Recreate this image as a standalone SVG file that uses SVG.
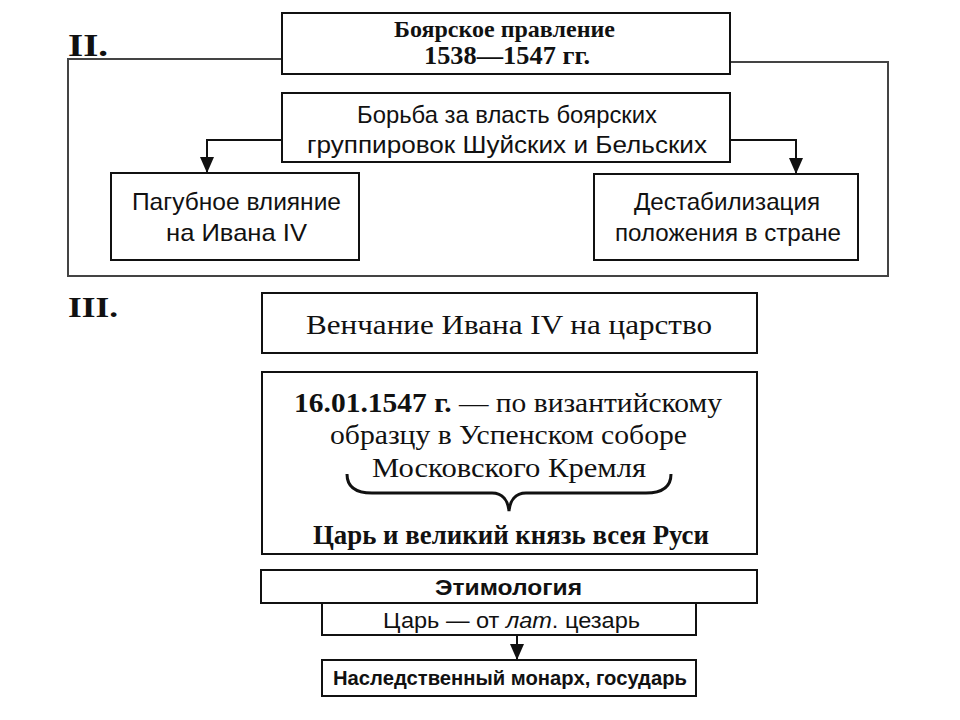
<svg xmlns="http://www.w3.org/2000/svg" width="960" height="720" viewBox="0 0 960 720">
<defs>
<marker id="ah" markerUnits="userSpaceOnUse" markerWidth="16" markerHeight="14" viewBox="0 0 16 14" refX="16" refY="7" orient="auto">
<path d="M0,0 L16,7 L0,14 Z" fill="#111"/>
</marker>
<style>
.box{fill:#fff;stroke:#111;stroke-width:2}
.frame{fill:none;stroke:#444;stroke-width:2}
.con{fill:none;stroke:#111;stroke-width:2}
.sr{font-family:"Liberation Serif","Times New Roman",serif;fill:#111}
.ss{font-family:"Liberation Sans",Arial,sans-serif;fill:#111}
.b{font-weight:bold}
</style>
</defs>
<rect width="960" height="720" fill="#fff"/>

<g id="section-II">
<text class="sr b" x="68" y="56" font-size="32" textLength="40" lengthAdjust="spacingAndGlyphs">II.</text>
<polyline class="frame" points="282,59 68,59 68,276 888,276 888,62 730,62"/>
</g>

<g id="connectors">
<polyline class="con" points="282,140 207,140 207,173" marker-end="url(#ah)"/>
<polyline class="con" points="730,140 796,140 796,174" marker-end="url(#ah)"/>
<line class="con" x1="517" y1="635" x2="517" y2="660" marker-end="url(#ah)"/>
</g>

<g id="boyar-rule">
<rect class="box" x="282" y="13" width="448" height="61"/>
<text class="sr b" x="394" y="37" font-size="24" textLength="221" lengthAdjust="spacingAndGlyphs">Боярское правление</text>
<text class="sr b" x="424" y="64" font-size="25" textLength="166" lengthAdjust="spacingAndGlyphs">1538—1547 гг.</text>
</g>

<g id="struggle">
<rect class="box" x="282" y="93" width="448" height="69"/>
<text class="ss" x="357" y="123" font-size="24" textLength="300" lengthAdjust="spacingAndGlyphs">Борьба за власть боярских</text>
<text class="ss" x="307" y="153" font-size="24" textLength="400" lengthAdjust="spacingAndGlyphs">группировок Шуйских и Бельских</text>
</g>

<g id="influence">
<rect class="box" x="111" y="173" width="248" height="87"/>
<text class="ss" x="132" y="210" font-size="24" textLength="209" lengthAdjust="spacingAndGlyphs">Пагубное влияние</text>
<text class="ss" x="166" y="241" font-size="24" textLength="141" lengthAdjust="spacingAndGlyphs">на Ивана IV</text>
</g>

<g id="destabilization">
<rect class="box" x="594" y="174" width="264" height="86"/>
<text class="ss" x="634" y="210" font-size="24" textLength="186" lengthAdjust="spacingAndGlyphs">Дестабилизация</text>
<text class="ss" x="615" y="241" font-size="24" textLength="226" lengthAdjust="spacingAndGlyphs">положения в стране</text>
</g>

<g id="section-III">
<text class="sr b" x="68" y="317" font-size="30" textLength="50" lengthAdjust="spacingAndGlyphs">III.</text>
</g>

<g id="coronation">
<rect class="box" x="262" y="293" width="495" height="60"/>
<text class="sr" x="306" y="334" font-size="27" textLength="406" lengthAdjust="spacingAndGlyphs">Венчание Ивана IV на царство</text>
</g>

<g id="details">
<rect class="box" x="262" y="372" width="495" height="182"/>
<text class="sr" x="294" y="412" font-size="27" textLength="428" lengthAdjust="spacingAndGlyphs"><tspan class="b">16.01.1547 г.</tspan> — по византийскому</text>
<text class="sr" x="330" y="444" font-size="27" textLength="357" lengthAdjust="spacingAndGlyphs">образцу в Успенском соборе</text>
<text class="sr" x="372" y="477" font-size="27" textLength="274" lengthAdjust="spacingAndGlyphs">Московского Кремля</text>
<path d="M347,474 C347,486 354,493 372,493 L492,493 C503,493 508,501 509,511 C510,501 515,493 526,493 L646,493 C664,493 671,486 671,474" fill="none" stroke="#111" stroke-width="3"/>
<text class="sr b" x="313" y="544" font-size="27" textLength="396" lengthAdjust="spacingAndGlyphs">Царь и великий князь всея Руси</text>
</g>

<g id="etymology">
<rect class="box" x="261" y="570" width="496" height="33"/>
<text class="ss b" x="435" y="595" font-size="22" textLength="147" lengthAdjust="spacingAndGlyphs">Этимология</text>
</g>

<g id="tsar-caesar">
<rect class="box" x="322" y="603" width="374" height="32"/>
<text class="ss" x="383" y="628" font-size="22" textLength="257" lengthAdjust="spacingAndGlyphs">Царь — от <tspan font-style="italic">лат</tspan>. цезарь</text>
</g>

<g id="monarch">
<rect class="box" x="322" y="660" width="374" height="36"/>
<text class="ss b" x="333" y="685" font-size="20" textLength="354" lengthAdjust="spacingAndGlyphs">Наследственный монарх, государь</text>
</g>
</svg>
